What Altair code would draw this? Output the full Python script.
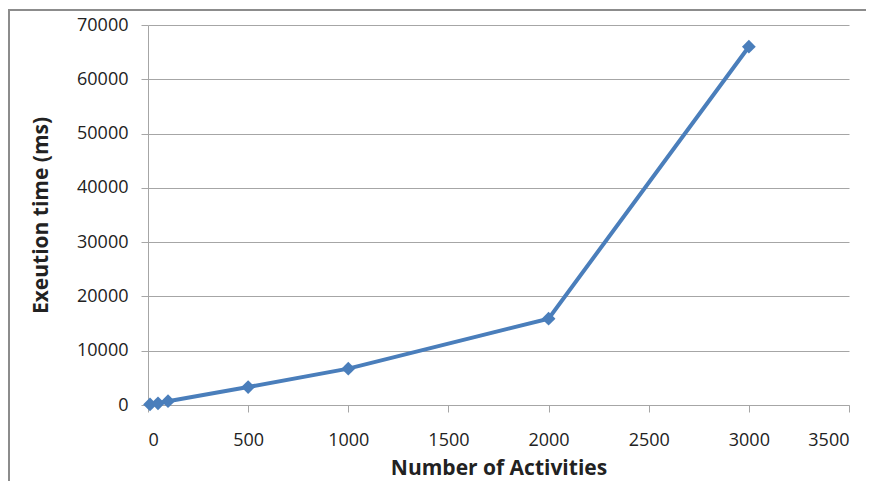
import altair as alt
import pandas as pd

activities = [10, 50, 100, 500, 1000, 2000, 3000]
exec_ms = [100, 300, 700, 3300, 6700, 15900, 66000]

df = pd.DataFrame({"n": activities, "t": exec_ms})

FONT = "Open Sans"
GRID = "#a6a6a6"

base = alt.Chart(df)

line = base.mark_line(color="#4a7ebb", strokeWidth=4).encode(
    x=alt.X("n:Q", scale=alt.Scale(domain=[0, 3500], nice=False),
            axis=alt.Axis(title="Number of Activities", values=list(range(0, 3501, 500)),
                          format="d", grid=False, tickSize=7, labelPadding=19, titlePadding=8,
                          domainColor=GRID, tickColor=GRID, labelFont=FONT, titleFont=FONT,
                          labelFontSize=18, titleFontSize=21, labelColor="#222",
                          titleColor="#222")),
    y=alt.Y("t:Q", scale=alt.Scale(domain=[0, 70000], nice=False),
            axis=alt.Axis(title="Exeution time (ms)", values=list(range(0, 70001, 10000)),
                          format="d", grid=True, gridColor=GRID, tickSize=7, labelPadding=13,
                          titlePadding=25, domainColor=GRID, tickColor=GRID,
                          labelFont=FONT, titleFont=FONT, labelFontSize=18,
                          titleFontSize=21, labelColor="#222", titleColor="#222")),
)

points = base.mark_point(shape="diamond", filled=True, size=190, color="#4a7ebb", opacity=1).encode(
    x="n:Q", y="t:Q"
)

frame_df = pd.DataFrame({"a": [0]})
frame_top = alt.Chart(frame_df).mark_rule(stroke="#8c8c8c", strokeWidth=2).encode(
    x=alt.value(-139), x2=alt.value(718), y=alt.value(-15)
)
frame_left = alt.Chart(frame_df).mark_rule(stroke="#8c8c8c", strokeWidth=2).encode(
    x=alt.value(-139), y=alt.value(-16), y2=alt.value(480)
)

chart = alt.layer(frame_top, frame_left, line, points).properties(
    width=701, height=380,
    autosize=alt.AutoSizeParams(type="none"),
    padding={"left": 140, "top": 17, "right": 18, "bottom": 76},
).configure_view(stroke=None).configure_axis(titleFontWeight="bold")

chart.save("out.html", embed_options={"renderer": "svg", "actions": False})
